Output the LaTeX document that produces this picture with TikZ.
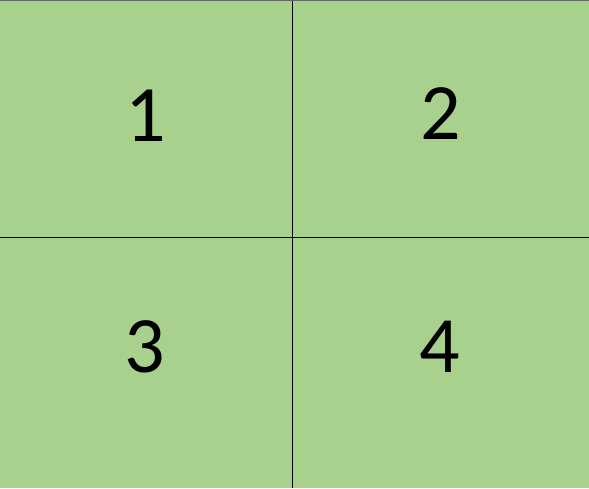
\documentclass[tikz,border=0pt]{standalone}
\usepackage{fontspec}
\setmainfont{Carlito}
\usetikzlibrary{positioning}
\definecolor{cellgreen}{HTML}{A9D18E}

\begin{document}
\begin{tikzpicture}[x=1pt, y=-1pt,
    cell/.style={rectangle, fill=cellgreen, inner sep=0pt, outer sep=0pt, anchor=north west},
    digit/.style={font=\fontsize{80}{80}\selectfont, inner sep=0pt},
    gridline/.style={draw=black, line width=0.9pt}]
  \useasboundingbox (0,0) rectangle (589,488);
  % Cells
  \node[cell, minimum width=292pt, minimum height=237pt] (c1) at (0,0) {};
  \node[cell, minimum width=297pt, minimum height=237pt] (c2) at (292,0) {};
  \node[cell, minimum width=292pt, minimum height=251pt] (c3) at (0,237) {};
  \node[cell, minimum width=297pt, minimum height=251pt] (c4) at (292,237) {};

  % Lines
  \draw[gridline] (c1.north east) -- (c3.south east);
  \draw[gridline] (c1.south west) -- (c2.south east);
  \draw[gridline, draw=black!60, line width=0.6pt] (c1.north west) -- (c2.north east);

  % Labels
  \node[digit] (n1) at (146,116) {1};
  \node[digit] (n2) at (441,114) {2};
  \node[digit] (n3) at (145,347) {3};
  \node[digit] (n4) at (440,347) {4};
\end{tikzpicture}
\end{document}
